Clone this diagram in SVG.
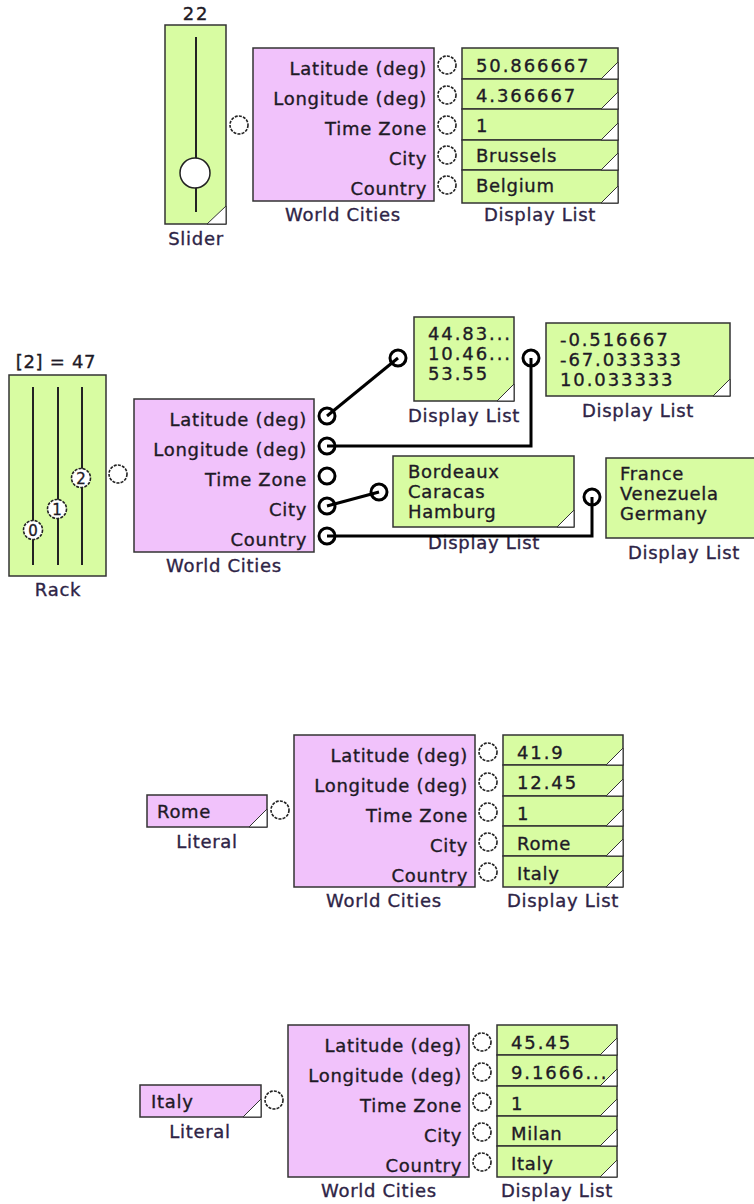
<svg xmlns="http://www.w3.org/2000/svg" width="754" height="1204" viewBox="0 0 754 1204">
<style>
text{font-family:"DejaVu Sans","Liberation Sans",sans-serif;font-size:18px;fill:#1e1a26;stroke:#1e1a26;stroke-width:0.35;letter-spacing:0.7px}
.lbl{fill:#2e2446;stroke:#2e2446}
.num{letter-spacing:1.9px}
.r{text-anchor:end}
.m{text-anchor:middle}
.g{fill:#d8fca2;stroke:#333;stroke-width:1.5}
.p{fill:#f1c2fb;stroke:#333;stroke-width:1.5}
.cn{fill:#fff;stroke:#333;stroke-width:1}
.port{fill:#fff;stroke:#222;stroke-width:1.6;stroke-dasharray:3 1.2}
.cport{fill:#fff;stroke:#000;stroke-width:3}
.wire{fill:none;stroke:#000;stroke-width:3}
.trk{stroke:#222;stroke-width:2}
.knob{fill:#fff;stroke:#222;stroke-width:1.6;stroke-dasharray:3 1.2}
.kt{font-size:15px;letter-spacing:0}
</style>

<!-- ===== Section 1 ===== -->
<g id="slider1">
<text class="m num" x="196" y="20">22</text>
<rect class="g" x="165" y="25" width="61" height="199"/>
<line class="trk" x1="196" y1="37" x2="196" y2="212"/>
<circle cx="195" cy="173" r="15" fill="#fff" stroke="#222" stroke-width="1.5"/>
<path class="cn" d="M207,224 L226,224 L226,206 Z"/>
<circle class="port" cx="239" cy="125" r="9"/>
<text class="m lbl" x="196" y="245">Slider</text>
</g>
<g id="wc1">
<rect class="p" x="253" y="48" width="181" height="153"/>
<text class="r" x="427" y="75">Latitude (deg)</text>
<text class="r" x="427" y="105">Longitude (deg)</text>
<text class="r" x="427" y="135">Time Zone</text>
<text class="r" x="427" y="165">City</text>
<text class="r" x="427" y="195">Country</text>
<circle class="port" cx="447" cy="65" r="9"/>
<circle class="port" cx="447" cy="95" r="9"/>
<circle class="port" cx="447" cy="125" r="9"/>
<circle class="port" cx="447" cy="155" r="9"/>
<circle class="port" cx="447" cy="185" r="9"/>
<text class="m lbl" x="343" y="221">World Cities</text>
</g>
<g id="dl1">
<rect class="g" x="462" y="48" width="156" height="31"/>
<rect class="g" x="462" y="79" width="156" height="30"/>
<rect class="g" x="462" y="109" width="156" height="31"/>
<rect class="g" x="462" y="140" width="156" height="30"/>
<rect class="g" x="462" y="170" width="156" height="33"/>
<path class="cn" d="M601,79 L618,79 L618,62 Z"/>
<path class="cn" d="M601,109 L618,109 L618,92 Z"/>
<path class="cn" d="M601,140 L618,140 L618,123 Z"/>
<path class="cn" d="M601,170 L618,170 L618,153 Z"/>
<path class="cn" d="M601,203 L618,203 L618,186 Z"/>
<text class="num" x="476" y="72">50.866667</text>
<text class="num" x="476" y="102">4.366667</text>
<text class="num" x="476" y="132">1</text>
<text x="476" y="162">Brussels</text>
<text x="476" y="192">Belgium</text>
<text class="m lbl" x="540" y="221">Display List</text>
</g>

<!-- ===== Section 2 ===== -->
<g id="rack">
<text class="m" x="56" y="368">[2] = 47</text>
<rect class="g" x="9" y="375" width="97" height="201"/>
<line class="trk" x1="33" y1="387" x2="33" y2="565"/>
<line class="trk" x1="58" y1="387" x2="58" y2="565"/>
<line class="trk" x1="82" y1="387" x2="82" y2="565"/>
<circle class="knob" cx="33" cy="530" r="9.5"/>
<circle class="knob" cx="57" cy="509" r="9.5"/>
<circle class="knob" cx="81" cy="478" r="9.5"/>
<text class="m kt" x="33" y="536">0</text>
<text class="m kt" x="57" y="515">1</text>
<text class="m kt" x="81" y="484">2</text>
<circle class="port" cx="118" cy="474" r="9"/>
<text class="m lbl" x="58" y="596">Rack</text>
</g>
<g id="wc2">
<rect class="p" x="134" y="399" width="180" height="153"/>
<text class="r" x="307" y="426">Latitude (deg)</text>
<text class="r" x="307" y="456">Longitude (deg)</text>
<text class="r" x="307" y="486">Time Zone</text>
<text class="r" x="307" y="516">City</text>
<text class="r" x="307" y="546">Country</text>
<circle class="cport" cx="327" cy="416" r="8"/>
<circle class="cport" cx="327" cy="446" r="8"/>
<circle class="cport" cx="327" cy="476" r="8"/>
<circle class="cport" cx="327" cy="506" r="8"/>
<circle class="cport" cx="327" cy="536" r="8"/>
<text class="m lbl" x="224" y="572">World Cities</text>
</g>
<g id="dl2a">
<rect class="g" x="414" y="317" width="100" height="84"/>
<path class="cn" d="M497,401 L514,401 L514,384 Z"/>
<text class="num" x="428" y="340">44.83...</text>
<text class="num" x="428" y="360">10.46...</text>
<text class="num" x="428" y="380">53.55</text>
<circle class="cport" cx="398" cy="358" r="8"/>
<text class="m lbl" x="464" y="422">Display List</text>
</g>
<g id="dl2b">
<rect class="g" x="546" y="323" width="184" height="73"/>
<path class="cn" d="M713,396 L730,396 L730,379 Z"/>
<text class="num" x="560" y="346">-0.516667</text>
<text class="num" x="560" y="366">-67.033333</text>
<text class="num" x="560" y="386">10.033333</text>
<circle class="cport" cx="531" cy="358" r="8"/>
<text class="m lbl" x="638" y="417">Display List</text>
</g>
<g id="dl2c">
<rect class="g" x="393" y="456" width="181" height="71"/>
<path class="cn" d="M557,527 L574,527 L574,510 Z"/>
<text x="408" y="478">Bordeaux</text>
<text x="408" y="498">Caracas</text>
<text x="408" y="518">Hamburg</text>
<circle class="cport" cx="379" cy="492" r="8"/>
<text class="m lbl" x="484" y="549">Display List</text>
</g>
<g id="dl2d">
<rect class="g" x="606" y="458" width="154" height="80"/>
<text x="620" y="480">France</text>
<text x="620" y="500">Venezuela</text>
<text x="620" y="520">Germany</text>
<circle class="cport" cx="592" cy="497" r="8"/>
<text class="m lbl" x="684" y="559">Display List</text>
</g>
<g id="wires2">
<path class="wire" d="M327,416 L398,358"/>
<path class="wire" d="M327,446 H531 V358"/>
<path class="wire" d="M327,506 L379,492"/>
<path class="wire" d="M327,536 H592 V497"/>
</g>

<!-- ===== Section 3 ===== -->
<g id="lit3">
<rect class="p" x="147" y="795" width="120" height="32"/>
<path class="cn" d="M249,827 L267,827 L267,809 Z"/>
<text x="157" y="818">Rome</text>
<circle class="port" cx="280" cy="810" r="9"/>
<text class="m lbl" x="207" y="848">Literal</text>
</g>
<g id="wc3">
<rect class="p" x="294" y="735" width="181" height="152"/>
<text class="r" x="468" y="762">Latitude (deg)</text>
<text class="r" x="468" y="792">Longitude (deg)</text>
<text class="r" x="468" y="822">Time Zone</text>
<text class="r" x="468" y="852">City</text>
<text class="r" x="468" y="882">Country</text>
<circle class="port" cx="488" cy="752" r="9"/>
<circle class="port" cx="488" cy="782" r="9"/>
<circle class="port" cx="488" cy="812" r="9"/>
<circle class="port" cx="488" cy="842" r="9"/>
<circle class="port" cx="488" cy="872" r="9"/>
<text class="m lbl" x="384" y="907">World Cities</text>
</g>
<g id="dl3">
<rect class="g" x="503" y="735" width="120" height="30"/>
<rect class="g" x="503" y="765" width="120" height="31"/>
<rect class="g" x="503" y="796" width="120" height="30"/>
<rect class="g" x="503" y="826" width="120" height="30"/>
<rect class="g" x="503" y="856" width="120" height="31"/>
<path class="cn" d="M606,765 L623,765 L623,748 Z"/>
<path class="cn" d="M606,796 L623,796 L623,779 Z"/>
<path class="cn" d="M606,826 L623,826 L623,809 Z"/>
<path class="cn" d="M606,856 L623,856 L623,839 Z"/>
<path class="cn" d="M606,887 L623,887 L623,870 Z"/>
<text class="num" x="517" y="759">41.9</text>
<text class="num" x="517" y="789">12.45</text>
<text class="num" x="517" y="820">1</text>
<text x="517" y="850">Rome</text>
<text x="517" y="880">Italy</text>
<text class="m lbl" x="563" y="907">Display List</text>
</g>

<!-- ===== Section 4 ===== -->
<g id="lit4">
<rect class="p" x="140" y="1085" width="121" height="32"/>
<path class="cn" d="M243,1117 L261,1117 L261,1099 Z"/>
<text x="151" y="1108">Italy</text>
<circle class="port" cx="274" cy="1100" r="9"/>
<text class="m lbl" x="200" y="1138">Literal</text>
</g>
<g id="wc4">
<rect class="p" x="288" y="1025" width="181" height="152"/>
<text class="r" x="462" y="1052">Latitude (deg)</text>
<text class="r" x="462" y="1082">Longitude (deg)</text>
<text class="r" x="462" y="1112">Time Zone</text>
<text class="r" x="462" y="1142">City</text>
<text class="r" x="462" y="1172">Country</text>
<circle class="port" cx="482" cy="1042" r="9"/>
<circle class="port" cx="482" cy="1072" r="9"/>
<circle class="port" cx="482" cy="1102" r="9"/>
<circle class="port" cx="482" cy="1132" r="9"/>
<circle class="port" cx="482" cy="1162" r="9"/>
<text class="m lbl" x="379" y="1197">World Cities</text>
</g>
<g id="dl4">
<rect class="g" x="497" y="1025" width="120" height="30"/>
<rect class="g" x="497" y="1055" width="120" height="31"/>
<rect class="g" x="497" y="1086" width="120" height="30"/>
<rect class="g" x="497" y="1116" width="120" height="30"/>
<rect class="g" x="497" y="1146" width="120" height="31"/>
<path class="cn" d="M600,1055 L617,1055 L617,1038 Z"/>
<path class="cn" d="M600,1086 L617,1086 L617,1069 Z"/>
<path class="cn" d="M600,1116 L617,1116 L617,1099 Z"/>
<path class="cn" d="M600,1146 L617,1146 L617,1129 Z"/>
<path class="cn" d="M600,1177 L617,1177 L617,1160 Z"/>
<text class="num" x="511" y="1049">45.45</text>
<text class="num" x="511" y="1079">9.1666...</text>
<text class="num" x="511" y="1110">1</text>
<text x="511" y="1140">Milan</text>
<text x="511" y="1170">Italy</text>
<text class="m lbl" x="557" y="1197">Display List</text>
</g>
</svg>
